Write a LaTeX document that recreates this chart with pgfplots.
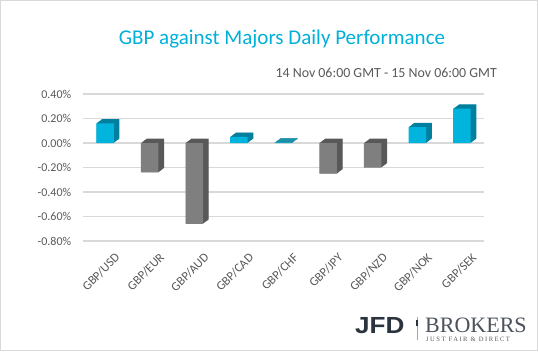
\documentclass[border=0pt]{standalone}
\usepackage{pgfplots}
\pgfplotsset{compat=1.18}
\usepackage{pgfplotstable}
\usepackage{fontspec}
\setmainfont{Carlito}
\newfontfamily\logosans{Liberation Sans}
\newfontfamily\logoserif{Liberation Serif}
\definecolor{cyanfront}{RGB}{0,180,222}
\definecolor{cyanside}{RGB}{0,128,158}
\definecolor{grayfront}{RGB}{127,127,127}
\definecolor{grayside}{RGB}{88,88,88}
\definecolor{titlecyan}{RGB}{0,176,216}
\definecolor{txtgray}{RGB}{89,89,89}
\definecolor{logodark}{RGB}{43,52,62}
\pgfplotstableread{
x y
0 0.16
3 0.05
4 0.004
7 0.13
8 0.28
}\posdata
\pgfplotstableread{
x y
1 -0.24
2 -0.66
5 -0.25
6 -0.20
}\negdata
\begin{document}
\begin{tikzpicture}[x=1pt,y=1pt]
\useasboundingbox (0,0) rectangle (538,351);
\draw[black!15, line width=1pt] (0.5,0.5) rectangle (537.5,350.5);
\node[anchor=base, text=titlecyan, font=\fontsize{21}{23}\selectfont] at (282,306) {GBP against Majors Daily Performance};
\node[anchor=base east, inner sep=0pt, text=txtgray, font=\fontsize{13.9}{15}\selectfont] at (497,273.5) {14 Nov 06:00 GMT - 15 Nov 06:00 GMT};
\begin{axis}[
  at={(82.7pt,110pt)}, anchor=south west,
  scale only axis, width=401.6pt, height=147pt,
  xmin=-0.5, xmax=8.5, ymin=-0.8, ymax=0.4,
  axis line style={draw=none},
  major tick length=0pt,
  ymajorgrids, grid style={black!15, line width=1.2pt},
  ytick={-0.8,-0.6,-0.4,-0.2,0,0.2,0.4},
  yticklabel={\pgfmathprintnumber[fixed,fixed zerofill,precision=2]{\tick}\%},
  /pgf/number format/assume math mode=true,
  yticklabel style={text=txtgray, font=\fontsize{12}{14}\selectfont, xshift=-8pt},
  xtick={0,...,8},
  xticklabels={GBP/USD,GBP/EUR,GBP/AUD,GBP/CAD,GBP/CHF,GBP/JPY,GBP/NZD,GBP/NOK,GBP/SEK},
  xticklabel style={text=txtgray, font=\fontsize{12.5}{14}\selectfont, rotate=45, anchor=north east, xshift=2pt, yshift=-11pt},
  clip=false,
]
\pgfplotsinvokeforeach{1,...,12}{
\addplot[ybar, bar width=17.5pt, bar shift=0pt, xshift=#1*0.475pt, yshift=#1*0.358pt, fill=cyanside, draw=none] table[x=x,y=y] {\posdata};
\addplot[ybar, bar width=17.5pt, bar shift=0pt, xshift=#1*0.475pt, yshift=#1*0.358pt, fill=grayside, draw=none] table[x=x,y=y] {\negdata};
}
\addplot[ybar, bar width=17.5pt, bar shift=0pt, fill=cyanfront, draw=none] table[x=x,y=y] {\posdata};
\addplot[ybar, bar width=17.5pt, bar shift=0pt, fill=grayfront, draw=none] table[x=x,y=y] {\negdata};
\end{axis}
\node[anchor=base west, inner sep=0pt, text=logodark, font=\logosans\bfseries\addfontfeature{FakeStretch=1.12}\fontsize{23.3}{24}\selectfont] at (355,17.7) {JFD};
\draw[black!35, line width=0.5pt] (417,11) -- (417,34);
\fill[logodark] (416.2,25) rectangle (417.8,31);
\node[anchor=base west, inner sep=0pt, text=logodark!85, font=\logoserif\fontsize{22}{23}\selectfont] at (425,18.3) {BROKERS};
\node[anchor=base west, inner sep=0pt, text=txtgray, font=\logoserif\addfontfeature{LetterSpace=22}\fontsize{6.6}{8}\selectfont] at (426,10) {JUST FAIR \& DIRECT};
\end{tikzpicture}
\end{document}
